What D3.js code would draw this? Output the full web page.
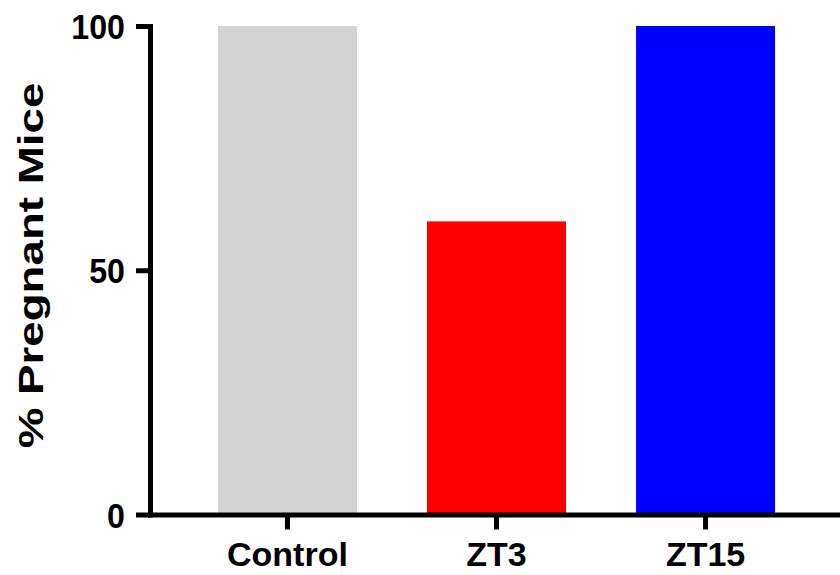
<!DOCTYPE html>
<html>
<head>
<meta charset="utf-8">
<script src="https://cdn.jsdelivr.net/npm/d3@7"></script>
<style>
    body { margin: 0; background: #fff; }
    svg { display: block; font-family: "Liberation Sans", Arial, sans-serif; }
</style>
</head>
<body>
<svg></svg>
<script>
let groups = ['Control', 'ZT3', 'ZT15']
let pregnant = [100, 60, 100]
let yTicks = [0, 50, 100]

let width = 840
let height = 575
let barColors = ['#d3d3d3', '#ff0000', '#0000ff']

let xScale
let yScale

let svg = d3.select('svg')

let drawCanvas = () => {
    svg.attr('width', width)
    svg.attr('height', height)
}

let generateScales = () => {
    xScale = d3.scaleBand()
        .domain(groups)
        .range([150, 843])
        .paddingInner(0.335)
        .paddingOuter(0.325)

    yScale = d3.scaleLinear()
        .domain([0, 100])
        .range([514.5, 26])
}

let drawBars = () => {
    svg.selectAll('rect.bar')
        .data(groups)
        .enter()
        .append('rect')
        .attr('class', 'bar')
        .attr('x', (d) => xScale(d))
        .attr('width', xScale.bandwidth())
        .attr('y', (d, i) => yScale(pregnant[i]))
        .attr('height', (d, i) => yScale(0) - yScale(pregnant[i]))
        .attr('fill', (d, i) => barColors[i])
}

let styleAxis = (g) => {
    g.select('.domain')
        .attr('stroke', '#000')
        .attr('stroke-width', 5)
        .attr('stroke-linecap', 'square')
    g.selectAll('.tick line')
        .attr('stroke', '#000')
        .attr('stroke-width', 5)
    g.selectAll('.tick text')
        .attr('fill', '#000')
        .attr('font-size', '34px')
        .attr('font-weight', 'bold')
        .attr('font-family', '"Liberation Sans", Arial, sans-serif')
}

let generateAxes = () => {
    let xAxis = d3.axisBottom(xScale).tickSize(15).tickSizeOuter(0).tickPadding(12)
    let yAxis = d3.axisLeft(yScale).tickValues(yTicks).tickSize(14).tickSizeOuter(0).tickPadding(11)

    svg.append('g')
        .attr('id', 'x-axis')
        .attr('transform', 'translate(0, ' + yScale(0) + ')')
        .call(xAxis)
        .call(styleAxis)
        .selectAll('.tick text')
        .attr('dy', '0.72em')

    // y numbers look a bit narrow in the reference
    svg.append('g')
        .attr('id', 'y-axis')
        .attr('transform', 'translate(150, 0)')
        .call(yAxis)
        .call(styleAxis)
        .selectAll('.tick text')
        .attr('font-size', '35px')
        .attr('x', 0)
        .attr('transform', 'translate(-25, 0) scale(0.92, 1)')
        .attr('dy', '0.36em')

    // title glyphs in the reference are stretched along the text
    svg.append('text')
        .attr('transform', 'translate(43, 265.5) rotate(-90) scale(1.27, 1)')
        .attr('text-anchor', 'middle')
        .attr('font-size', '36px')
        .attr('font-weight', 'bold')
        .text('% Pregnant Mice')
}

drawCanvas()
generateScales()
drawBars()
generateAxes()
</script>
</body>
</html>
